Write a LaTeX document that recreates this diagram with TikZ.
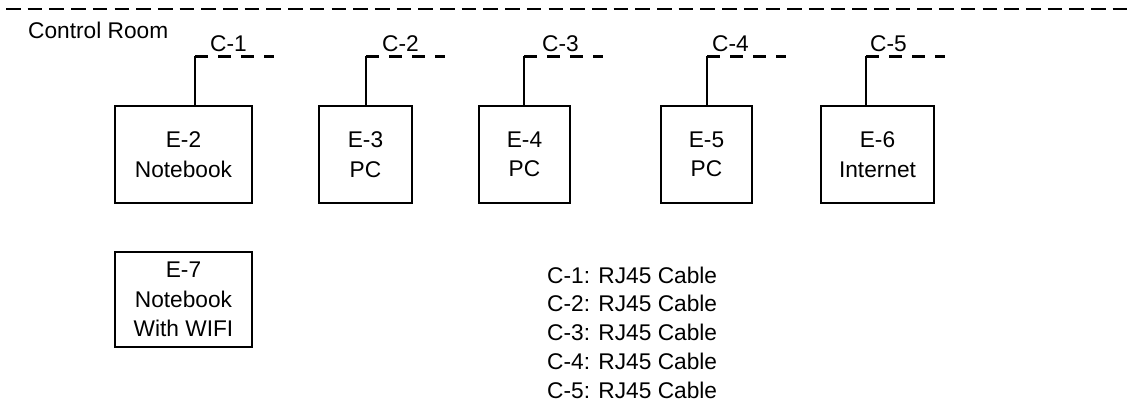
\documentclass[tikz,border=0pt]{standalone}
\usepackage{fontspec}
\setmainfont{Liberation Sans}
\begin{document}
\begin{tikzpicture}[x=1pt,y=-1pt,
  every node/.style={font=\fontsize{22.7pt}{29.5pt}\selectfont, inner sep=0pt},
  equip/.style={draw, line width=1.6pt, align=center},
  lbl/.style={anchor=base west},
  roomline/.style={line width=2.7pt, dash pattern=on 14.6pt off 7.1pt},
  cableline/.style={line width=2.6pt, dash pattern=on 13pt off 10pt},
  link/.style={line width=1.5pt}]
\useasboundingbox (0,0) rectangle (1129,406);
% room boundary
\coordinate (rA) at (6,9);
\coordinate (rB) at (1129,9);
\draw[roomline] (rA) -- (rB);
\node[lbl] (room) at (28,39) {Control Room};
% equipment
\node[equip, minimum width=137pt, minimum height=97pt] (e2) at (183.5,154.5) {E-2\\Notebook};
\node[equip, minimum width=93pt, minimum height=97pt] (e3) at (365.5,154.5) {E-3\\PC};
\node[equip, minimum width=91pt, minimum height=97pt] (e4) at (524.5,154.5) {E-4\\PC};
\node[equip, minimum width=91pt, minimum height=97pt] (e5) at (706.5,154.5) {E-5\\PC};
\node[equip, minimum width=113pt, minimum height=97pt] (e6) at (877.5,154.5) {E-6\\Internet};
\node[equip, minimum width=137pt, minimum height=95pt] (e7) at (183.5,299.5) {E-7\\Notebook\\With WIFI};
% cables
\coordinate (c1) at (195,56.5);  \coordinate (c1e) at (274,56.5);
\coordinate (c2) at (366,56.5);  \coordinate (c2e) at (445,56.5);
\coordinate (c3) at (524,56.5);  \coordinate (c3e) at (603,56.5);
\coordinate (c4) at (707,56.5);  \coordinate (c4e) at (786,56.5);
\coordinate (c5) at (866,56.5);  \coordinate (c5e) at (945,56.5);
\foreach \c/\e in {c1/e2,c2/e3,c3/e4,c4/e5,c5/e6}{
  \draw[cableline] (\c) -- (\c e);
  \draw[link] (\c) -- (\c |- \e.north);
}
\node[lbl] (l1) at (210,52) {C-1};
\node[lbl] (l2) at (382,52) {C-2};
\node[lbl] (l3) at (542,52) {C-3};
\node[lbl] (l4) at (712,52) {C-4};
\node[lbl] (l5) at (870,52) {C-5};
% legend
\node[lbl] (g1) at (547,283) {C-1: RJ45 Cable};
\node[lbl] (g2) at (547,311.8) {C-2: RJ45 Cable};
\node[lbl] (g3) at (547,340.6) {C-3: RJ45 Cable};
\node[lbl] (g4) at (547,369.4) {C-4: RJ45 Cable};
\node[lbl] (g5) at (547,398.2) {C-5: RJ45 Cable};
\end{tikzpicture}
\end{document}
